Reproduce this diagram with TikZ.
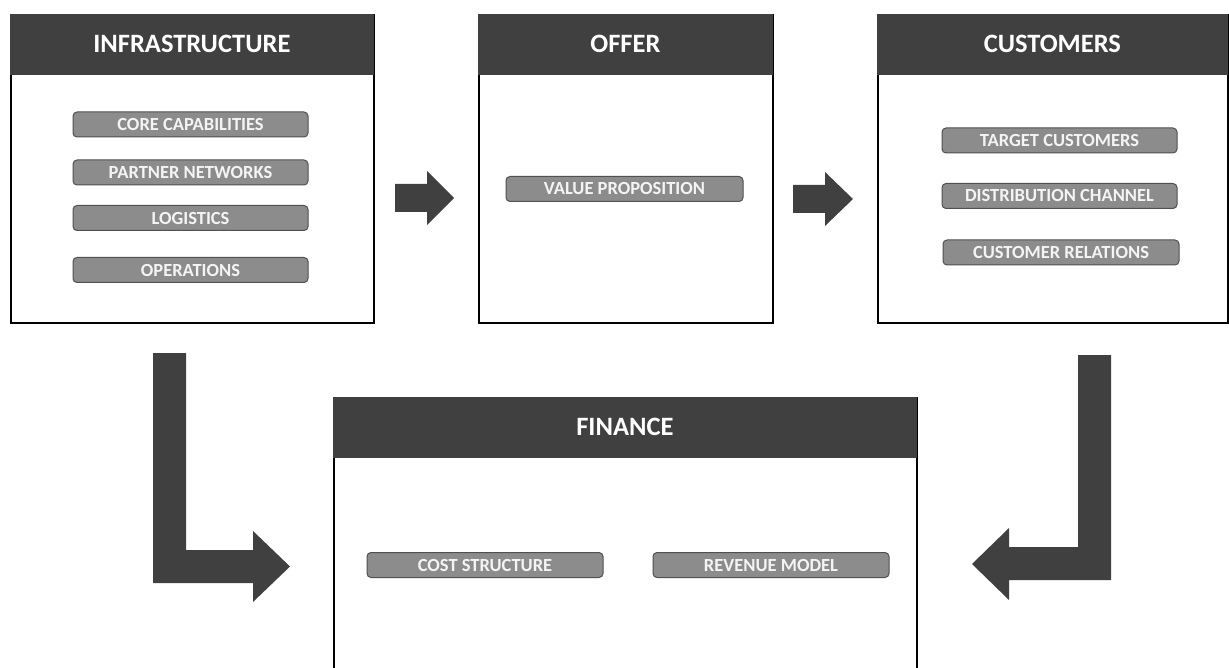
\documentclass[tikz,border=0pt]{standalone}
\usepackage{fontspec}
\setmainfont{Carlito}
\definecolor{hdrgray}{HTML}{404040}
\definecolor{pillgray}{HTML}{8C8C8C}
\definecolor{pillborder}{HTML}{505050}
\definecolor{pilltext}{HTML}{F4F4F4}
\begin{document}
\begin{tikzpicture}[x=1pt,y=-1pt,
  hdr/.style={fill=hdrgray, draw=hdrgray, line width=0.8pt, text=white, anchor=north west,
    font=\bfseries\fontsize{26.5}{30}\selectfont, minimum height=60pt, inner sep=0pt},
  body/.style={draw=black, line width=1.6pt, fill=white, anchor=north west, inner sep=0pt},
  pill/.style={draw=pillborder, fill=pillgray, rounded corners=4pt, line width=1pt,
    text=pilltext, font=\bfseries\fontsize{18.5}{20}\selectfont,
    minimum width=235pt, minimum height=25pt, inner sep=0pt},
  blockarrow/.style={fill=hdrgray, draw=none}]
\clip (0,0) rectangle (1229,668);
\fill[white] (0,0) rectangle (1229,668);

% Infrastructure
\node[body, minimum width=363pt, minimum height=308pt] (infra) at (10,14) {};
\node[hdr, minimum width=363pt] (infrah) at (10,14) {INFRASTRUCTURE};
\node[pill] (core) at (190.5,124.5) {CORE CAPABILITIES};
\node[pill] (partner) at (190.5,172.5) {PARTNER NETWORKS};
\node[pill] (logistics) at (190.5,218) {LOGISTICS};
\node[pill] (operations) at (190.5,270) {OPERATIONS};

% Offer
\node[body, minimum width=294pt, minimum height=308pt] (offer) at (478,14) {};
\node[hdr, minimum width=294pt] (offerh) at (478,14) {OFFER};
\node[pill, minimum width=237pt] (value) at (624.5,189) {VALUE PROPOSITION};

% Customers
\node[body, minimum width=350pt, minimum height=308pt] (cust) at (877,14) {};
\node[hdr, minimum width=350pt] (custh) at (877,14) {CUSTOMERS};
\node[pill] (target) at (1059.5,140.5) {TARGET CUSTOMERS};
\node[pill] (distrib) at (1059.5,196) {DISTRIBUTION CHANNEL};
\node[pill, minimum width=236pt] (relations) at (1061,252.5) {CUSTOMER RELATIONS};

% Finance
\node[body, minimum width=583pt, minimum height=320pt] (fin) at (333,397) {};
\node[hdr, minimum width=583pt] (finh) at (333,397) {FINANCE};
\node[pill, minimum width=236pt] (cost) at (485,565) {COST STRUCTURE};
\node[pill, minimum width=236pt] (revenue) at (771,565) {REVENUE MODEL};

% Arrows
\fill[blockarrow] (395,184) -- (427,184) -- (427,171) -- (454,198) -- (427,225) -- (427,212) -- (395,212) -- cycle;
\fill[blockarrow] (793,185) -- (825,185) -- (825,172) -- (853,199) -- (825,226) -- (825,213) -- (793,213) -- cycle;
\fill[blockarrow] (153,353) -- (186,353) -- (186,550) -- (253,550) -- (253,531) -- (290,566.5) -- (253,602) -- (253,583) -- (153,583) -- cycle;
\fill[blockarrow] (1111,355) -- (1078,355) -- (1078,547) -- (1009,547) -- (1009,528) -- (972,564) -- (1009,600) -- (1009,580) -- (1111,580) -- cycle;
\end{tikzpicture}
\end{document}
